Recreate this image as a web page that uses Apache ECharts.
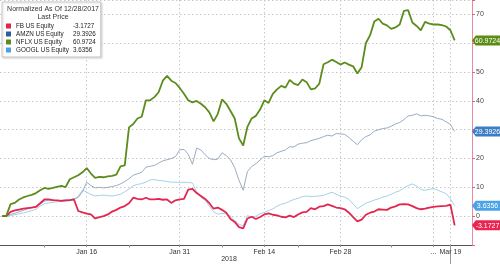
<!DOCTYPE html>
<html>
<head>
<meta charset="utf-8">
<script src="https://cdn.jsdelivr.net/npm/echarts@6/dist/echarts.min.js"></script>
<style>html,body{margin:0;padding:0;background:#fff;}#c{width:500px;height:264px;}</style>
</head>
<body>
<div id="c"></div>
<script>
// Trading days shown (normalized as of 12/28/2017); each day has two samples (half-days)
const tradingDays = ['Dec 29','Jan 2','Jan 3','Jan 4','Jan 5','Jan 8','Jan 9','Jan 10','Jan 11','Jan 12',
  'Jan 16','Jan 17','Jan 18','Jan 19','Jan 22','Jan 23','Jan 24','Jan 25','Jan 26','Jan 29','Jan 30','Jan 31',
  'Feb 1','Feb 2','Feb 5','Feb 6','Feb 7','Feb 8','Feb 9','Feb 12','Feb 13','Feb 14','Feb 15','Feb 16',
  'Feb 20','Feb 21','Feb 22','Feb 23','Feb 26','Feb 27','Feb 28','Mar 1','Mar 2','Mar 5','Mar 6','Mar 7',
  'Mar 8','Mar 9','Mar 12','Mar 13','Mar 14','Mar 15','Mar 16','Mar 19'];
const labelDays = ['Jan 16','Jan 31','Feb 14','Feb 28','Mar 15','Mar 19'];
const labelTexts = ['Jan 16','Jan 31','Feb 14','Feb 28','...','Mar 19'];
const minorTickDays = ['Jan 8','Jan 23','Feb 7','Feb 21','Mar 8'];
const markerDay = 'Mar 19';
const yTickHidden = [-10, 30, 60, 75];

const seriesNames = ['FB US Equity','AMZN US Equity','NFLX US Equity','GOOGL US Equity'];

const fb = [0,0,1.5,2.0,2.3,2.6,2.8,3.0,3.2,4.5,
 5.8,5.8,5.6,5.5,5.3,5.5,5.6,5.8,1.8,1.3,
 0.9,0.6,-0.8,-0.3,0.0,0.6,1.6,2.2,3.0,3.5,
 4.5,6.4,6.0,5.8,6.4,5.8,5.8,6.0,5.7,5.8,
 4.6,5.5,5.8,6.0,9.2,9.5,8.0,7.0,6.0,4.5,
 2.6,3.0,2.2,1.2,-1.0,-2.0,-3.8,-4.2,-0.8,-0.2,
 -1.0,-0.3,0.6,1.0,0.5,0.3,-0.2,-0.4,0.2,-0.3,
 0.6,1.3,1.5,2.8,2.4,3.3,3.5,4.1,3.6,3.0,
 2.8,2.4,1.2,-0.3,-1.8,-1.2,0.5,1.2,1.6,2.4,
 2.3,2.2,3.0,3.4,4.1,4.2,4.1,3.5,2.8,2.4,
 2.6,3.0,3.2,3.4,3.5,3.6,4.0,-3.1727];

const amzn = [0,0,0.6,1.0,1.5,2.0,2.5,3.0,3.5,4.2,
 5.2,5.5,5.6,5.4,5.5,5.6,5.7,6.0,6.5,8.5,
 11.8,10.6,9.8,10.0,9.8,10.0,10.3,10.6,11.2,12.0,
 13.0,14.2,14.7,15.2,17.0,17.3,17.6,18.4,19.2,19.6,
 20.0,20.7,23.0,23.2,21.5,18.0,23.6,23.0,21.3,20.0,
 19.6,19.8,22.0,21.0,19.6,16.8,12.5,9.0,15.5,17.2,
 18.2,19.5,20.8,20.6,21.0,22.0,22.5,23.0,24.1,24.0,
 25.0,25.3,25.5,26.2,26.6,27.0,27.6,28.1,27.8,28.7,
 28.5,28.4,27.3,26.0,24.8,26.5,27.6,28.2,29.5,30.0,
 30.4,30.6,31.2,32.0,32.5,33.5,34.8,35.0,35.5,34.8,
 35.0,34.8,34.5,33.9,33.6,32.7,31.8,29.3926];

const nflx = [0,0.2,4.2,4.6,5.8,6.5,7.0,7.4,8.0,9.0,
 9.8,9.5,9.8,10.2,10.5,10.1,12.8,13.5,14.2,15.2,
 16.7,14.8,13.3,13.6,13.5,13.8,14.0,14.4,17.3,17.6,
 30.8,32.0,33.9,34.5,40.2,40.2,41.3,43.0,47.0,48.7,
 47.0,46.2,44.5,42.5,40.2,39.5,40.0,39.0,37.8,36.0,
 32.9,35.5,40.5,39.0,36.5,33.9,27.0,24.5,31.0,33.9,
 34.8,37.0,40.2,39.3,42.4,44.0,45.2,44.6,47.3,46.0,
 45.5,47.4,46.5,44.0,44.3,46.0,52.7,53.4,54.3,53.5,
 52.6,53.3,52.6,52.0,49.5,51.7,60.0,62.8,67.5,68.5,
 66.8,66.2,65.0,65.5,66.5,71.2,71.5,67.2,66.0,64.5,
 67.4,66.8,66.5,66.5,66.3,65.8,64.5,60.9724];

const googl = [0,0,0.2,0.5,0.8,1.1,1.5,1.9,2.4,3.5,
 4.3,4.6,4.8,5.0,5.1,5.2,5.4,5.6,7.0,9.0,
 8.4,7.5,7.0,7.2,7.3,7.1,7.0,7.3,7.6,8.5,
 9.4,10.6,11.0,11.3,11.8,12.6,12.7,12.4,12.3,12.0,
 11.8,11.8,11.7,11.8,11.7,11.5,8.5,6.5,5.5,3.5,
 1.5,0.7,1.0,0.8,0.0,-1.5,-2.8,-3.3,0.2,-0.3,
 0.0,0.8,1.3,2.0,2.5,3.5,4.1,4.5,5.2,5.8,
 6.2,6.8,7.0,6.8,6.9,7.0,7.2,7.8,8.3,7.6,
 7.0,6.6,5.8,4.2,2.6,3.5,4.5,5.0,5.6,6.0,
 6.6,7.0,7.6,8.3,8.8,9.8,10.6,11.2,10.5,9.2,
 9.0,9.3,9.6,9.0,8.4,7.8,6.0,3.6356];

// ---- build ----
const SAMPLES_PER_DAY = 2;
const X_MIN = -0.5, X_MAX = 111.1;
const dayPos = d => SAMPLES_PER_DAY * tradingDays.indexOf(d);
const labelPos = labelDays.map(dayPos);
const labelMap = {};
labelPos.forEach((p, i) => { labelMap[p] = labelTexts[i]; });
const toPairs = arr => arr.map((v, i) => [i, v]);
const last = arr => arr[arr.length - 1];
const FONT = '"Liberation Sans", Arial, sans-serif';

const colors = {
  FB:   {line: '#e2264f', legend: '#e8214c', tag: '#ea2450', width: 1.8},
  AMZN: {line: '#8ea3bb', legend: '#2c5e9f', tag: '#3a7ec6', width: 0.9},
  NFLX: {line: '#5c8c1c', legend: '#5b8d16', tag: '#5b8d16', width: 1.8},
  GOOGL:{line: '#9ccbe4', legend: '#46a1e6', tag: '#4aa3e8', width: 0.9}
};
const dataByName = {'FB US Equity': fb, 'AMZN US Equity': amzn, 'NFLX US Equity': nflx, 'GOOGL US Equity': googl};
const keyByName = n => n.split(' ')[0];

function makeSeries(name) {
  const arr = dataByName[name];
  const c = colors[keyByName(name)];
  return {
    name, type: 'line', data: toPairs(arr), showSymbol: false, symbol: 'none',
    lineStyle: {color: c.line, width: c.width}, itemStyle: {color: c.line},
    animation: false, silent: true,
    markPoint: {
      silent: true,
      symbol: 'path://M0,5L4,0L30,0L30,10L4,10Z',
      symbolSize: [28, 10],
      symbolKeepAspect: false,
      symbolOffset: [14, 0],
      itemStyle: {color: c.tag},
      label: {show: true, position: 'inside', color: '#fff', fontSize: 7, fontFamily: FONT, offset: [1.5, 0.5],
        formatter: last(arr).toFixed(4)},
      data: [{coord: [X_MAX, last(arr)]}]
    }
  };
}

const drawOrder = ['GOOGL US Equity','AMZN US Equity','FB US Equity','NFLX US Equity'];

const chart = echarts.init(document.getElementById('c'), null, {renderer: 'canvas'});
chart.setOption({
  animation: false,
  backgroundColor: '#fff',
  textStyle: {fontFamily: FONT},
  grid: {left: 0, right: 28, top: -1, bottom: 19},
  legend: {
    orient: 'vertical', left: 2, top: 2,
    padding: [20, 5, 3, 4],
    itemWidth: 5, itemHeight: 5, itemGap: 0,
    borderColor: '#c9c9c9', borderWidth: 1, backgroundColor: '#fff',
    shadowBlur: 2, shadowColor: 'rgba(0,0,0,0.15)', shadowOffsetX: 1, shadowOffsetY: 1,
    selectedMode: false,
    icon: 'rect',
    data: seriesNames.map(n => ({name: n, itemStyle: {color: colors[keyByName(n)].legend}})),
    formatter: n => '{n|' + n + '}{v|' + last(dataByName[n]).toFixed(4) + '}',
    textStyle: {fontSize: 6.3, color: '#222', lineHeight: 8, fontFamily: FONT,
      rich: {n: {width: 57, fontSize: 6.3, lineHeight: 8, fontFamily: FONT, color: '#222'},
             v: {fontSize: 6.3, lineHeight: 8, fontFamily: FONT, color: '#222'}}}
  },
  graphic: [
    {type: 'text', z: 100, x: 53, y: 9.5, style: {text: 'Normalized As Of 12/28/2017', align: 'center', verticalAlign: 'middle', font: '7px ' + FONT, fill: '#333'}},
    {type: 'text', z: 100, x: 53, y: 17.5, style: {text: 'Last Price', align: 'center', verticalAlign: 'middle', font: '7px ' + FONT, fill: '#333'}},
    {type: 'text', z: 100, x: 229, y: 259, style: {text: '2018', align: 'center', verticalAlign: 'middle', font: '7px ' + FONT, fill: '#333'}}
  ],
  xAxis: [
    {
      type: 'value', min: X_MIN, max: X_MAX, position: 'bottom',
      axisLine: {show: true, onZero: false, lineStyle: {color: '#555', width: 1}},
      axisTick: {show: true, customValues: labelPos, length: 2, lineStyle: {color: '#888'}},
      axisLabel: {show: true, customValues: labelPos, fontSize: 7, color: '#333', margin: 4, fontFamily: FONT,
        formatter: v => labelMap[Math.round(v)] || ''},
      splitLine: {show: true, lineStyle: {color: '#c8c8c8', type: [1.5, 2.5], width: 1}}
    },
    {
      type: 'value', min: X_MIN, max: X_MAX, position: 'bottom',
      axisLine: {show: false, onZero: false},
      axisTick: {show: true, customValues: minorTickDays.map(dayPos), length: 2.5, lineStyle: {color: '#888'}},
      axisLabel: {show: false}, splitLine: {show: false}
    },
    {
      type: 'value', min: X_MIN, max: X_MAX, position: 'bottom',
      axisLine: {show: false, onZero: false},
      axisTick: {show: true, customValues: [dayPos(markerDay)], length: 20, lineStyle: {color: '#999'}},
      axisLabel: {show: false}, splitLine: {show: false}
    }
  ],
  yAxis: {
    type: 'value', position: 'right', min: -10, max: 75, interval: 10,
    axisLine: {show: true, onZero: false, lineStyle: {color: '#e88aa0', width: 1}},
    axisTick: {show: true, length: 3, lineStyle: {color: '#e06080'}},
    axisLabel: {fontSize: 7, color: '#444', margin: 4, fontFamily: FONT,
      formatter: v => yTickHidden.includes(v) ? '' : String(v)},
    splitLine: {show: true, lineStyle: {color: '#c8c8c8', type: [1.5, 2.5], width: 1}}
  },
  series: drawOrder.map(makeSeries)
});
</script>
</body>
</html>
